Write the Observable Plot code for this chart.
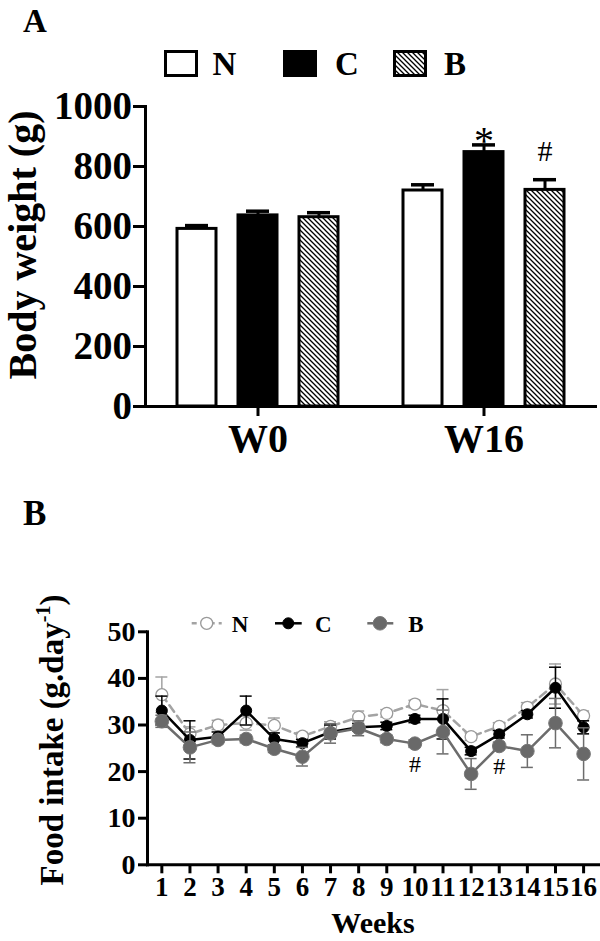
<!DOCTYPE html>
<html><head><meta charset="utf-8">
<script src="https://cdn.jsdelivr.net/npm/d3@7"></script>
<script src="https://cdn.jsdelivr.net/npm/@observablehq/plot@0.6"></script>
<style>
body{margin:0;background:#fff;}
#fig{position:relative;width:600px;height:941px;font-family:"Liberation Serif","Times New Roman",Times,serif;}
#fig > svg.plt{position:absolute;left:0;overflow:visible;}
</style></head><body>
<svg width="0" height="0" style="position:absolute"><defs>
<pattern id="hatchA" patternUnits="userSpaceOnUse" width="5" height="5">
<path d="M-1,-1 L6,6 M-1,4 L1,6 M4,-1 L6,1" stroke="black" stroke-width="1.3"/>
</pattern></defs></svg>
<div id="fig"></div>
<script>
// ---------- Panel A: body weight ----------
const weeksA = ["W0", "W16"];
const groups = ["N", "C", "B"];
const bwN = [592, 720];
const bwC = [637, 848];
const bwB = [631, 722];
const bwErrN = [11, 19];
const bwErrC = [14, 24];
const bwErrB = [15, 34];
const yTicksA = [0, 200, 400, 600, 800, 1000];
const sigA = [{week: "W16", group: "C", label: "*"}, {week: "W16", group: "B", label: "#"}];

// ---------- Panel B: food intake ----------
const weeks = [1, 2, 3, 4, 5, 6, 7, 8, 9, 10, 11, 12, 13, 14, 15, 16];
const fiN = [36.5, 28.1, 30.0, 30.4, 29.9, 27.6, 29.7, 31.7, 32.5, 34.5, 33.1, 27.5, 29.7, 33.8, 38.8, 32.0];
const fiC = [33.1, 26.8, 27.5, 33.1, 27.0, 26.1, 28.5, 29.5, 29.8, 31.3, 31.3, 24.4, 28.0, 32.3, 38.0, 29.5];
const fiB = [30.8, 25.2, 26.8, 27.0, 24.9, 23.2, 28.2, 29.3, 27.0, 26.0, 28.5, 19.5, 25.5, 24.4, 30.4, 23.8];
const errN = [3.8, 1.5, 1.0, 1.5, 1.6, 0.8, 1.0, 1.3, 0.8, 0.8, 4.5, 0.8, 0.8, 1.0, 4.3, 1.0];
const errC = [3.1, 4.1, 1.0, 3.1, 1.3, 0.8, 1.5, 0.8, 0.8, 0.8, 4.3, 0.8, 0.8, 0.8, 4.4, 1.4];
const errB = [1.3, 3.3, 0.8, 0.8, 0.8, 2.0, 2.1, 1.6, 0.8, 0.8, 4.7, 3.3, 0.8, 3.5, 5.3, 5.6];
const yTicksB = [0, 10, 20, 30, 40, 50];
const sigB = [{week: 10, label: "#"}, {week: 13, label: "#"}];

const FONT = '"Liberation Serif","Times New Roman",Times,serif';
const fig = document.getElementById("fig");

// ---- build panel A ----
const valsA = {N: bwN, C: bwC, B: bwB};
const errsA = {N: bwErrN, C: bwErrC, B: bwErrB};
const rowsA = weeksA.flatMap((w, i) => groups.map(g => ({week: w, group: g, value: valsA[g][i], err: errsA[g][i]})));
const fillsA = {N: "white", C: "black", B: "url(#hatchA)"};
const sigRowsA = sigA.map(s => {
  const r = rowsA.find(d => d.week === s.week && d.group === s.group);
  return {...s, top: r.value + r.err};
});

const plotA = Plot.plot({
  width: 600, height: 470,
  marginLeft: 145, marginRight: 3, marginTop: 106, marginBottom: 64,
  style: {fontFamily: FONT, fontWeight: "bold", color: "black", background: "transparent", overflow: "visible"},
  fx: {domain: weeksA, paddingInner: 0, paddingOuter: 0, axis: null, label: null},
  x: {domain: groups, paddingInner: 0.356, paddingOuter: 0.53, axis: null, label: null},
  y: {domain: [0, 1000], axis: null, label: null},
  marks: [
    ...groups.map(g => Plot.barY(rowsA.filter(d => d.group === g), {
      fx: "week", x: "group", y: "value", fill: fillsA[g], stroke: "black", strokeWidth: 3
    })),
    Plot.ruleX(rowsA, {fx: "week", x: "group", y1: "value", y2: d => d.value + d.err, stroke: "black", strokeWidth: 3}),
    Plot.tickY(rowsA, {fx: "week", x: "group", y: d => d.value + d.err, stroke: "black", strokeWidth: 3.5, insetLeft: 8, insetRight: 8}),
    Plot.ruleY([0], {strokeWidth: 3}),
    Plot.frame({anchor: "left", facetAnchor: "left", strokeWidth: 3}),
    Plot.axisY(yTicksA, {tickSize: 12, tickPadding: 1.5, fontSize: 39, fontWeight: "bold", strokeWidth: 3, tickFormat: d => String(d)}),
    Plot.ruleX(weeksA, {fx: d => d, x: () => groups[1], y1: () => 0, y2: () => 0, insetBottom: -10, strokeWidth: 3}),
    Plot.text(weeksA, {fx: d => d, x: () => groups[1], text: d => d, frameAnchor: "bottom", lineAnchor: "bottom", dy: 45, fontSize: 40, fontWeight: "bold"}),
    Plot.text(sigRowsA.filter(d => d.label === "*"), {fx: "week", x: "group", y: "top", text: "label", lineAnchor: "bottom", dy: 9, fontSize: 40, fontWeight: "normal"}),
    Plot.text(sigRowsA.filter(d => d.label === "#"), {fx: "week", x: "group", y: "top", text: "label", lineAnchor: "bottom", dy: -19, fontSize: 30, fontWeight: "normal"})
  ]
});
plotA.classList.add("plt");
plotA.style.top = "0px";
fig.appendChild(plotA);

// panel A decorations: panel letter, axis title, legend
{
  const s = d3.select(plotA);
  s.append("text").attr("x", 23).attr("y", 32).attr("text-anchor", "start").attr("font-size", 33)
    .attr("font-weight", "bold").attr("font-family", FONT).text("A");
  s.append("text").attr("transform", "translate(36,245) rotate(-90)").attr("text-anchor", "middle")
    .attr("font-size", 40).attr("font-weight", "bold").attr("font-family", FONT).text("Body weight (g)");
  const legX = {N: [165.5, 212.5], C: [284.5, 335], B: [394.5, 444]};
  groups.forEach(g => {
    s.append("rect").attr("x", legX[g][0]).attr("y", 51.5).attr("width", 31).attr("height", 24)
      .attr("fill", fillsA[g]).attr("stroke", "black").attr("stroke-width", 3);
    s.append("text").attr("x", legX[g][1]).attr("y", 75).attr("text-anchor", "start").attr("font-size", 33)
      .attr("font-weight", "bold").attr("font-family", FONT).text(g);
  });
}

// ---- build panel B ----
const rowsB = weeks.map((w, i) => ({week: w, N: fiN[i], C: fiC[i], B: fiB[i], eN: errN[i], eC: errC[i], eB: errB[i]}));
const series = [
  {key: "N", err: "eN", stroke: "#a3a3a3", dash: "8,5", fill: "white", r: 6, dotStroke: "#9a9a9a", sw: 1.3},
  {key: "C", err: "eC", stroke: "black", dash: null, fill: "black", r: 5.5, dotStroke: "black", sw: 1},
  {key: "B", err: "eB", stroke: "#6c6c6c", dash: null, fill: "#696969", r: 6.8, dotStroke: "#777777", sw: 1}
];
const sigRowsB = sigB.map(s => {
  const r = rowsB.find(d => d.week === s.week);
  return {...s, low: r.B - r.eB};
});

const marksB = [];
series.forEach(sr => {
  marksB.push(Plot.ruleX(rowsB, {x: "week", y1: d => d[sr.key] - d[sr.err], y2: d => d[sr.key] + d[sr.err], stroke: sr.stroke, strokeWidth: 1.5}));
  marksB.push(Plot.ruleY(rowsB, {y: d => d[sr.key] + d[sr.err], x1: "week", x2: "week", insetLeft: -6, insetRight: -6, stroke: sr.stroke, strokeWidth: 1.5}));
  marksB.push(Plot.ruleY(rowsB, {y: d => d[sr.key] - d[sr.err], x1: "week", x2: "week", insetLeft: -6, insetRight: -6, stroke: sr.stroke, strokeWidth: 1.5}));
  marksB.push(Plot.line(rowsB, {x: "week", y: sr.key, stroke: sr.stroke, strokeWidth: 2.5, strokeDasharray: sr.dash || undefined}));
  marksB.push(Plot.dot(rowsB, {x: "week", y: sr.key, r: sr.r, fill: sr.fill, stroke: sr.dotStroke, strokeWidth: sr.sw}));
});

const plotB = Plot.plot({
  width: 600, height: 471,
  marginLeft: 147, marginRight: 2, marginTop: 161.3, marginBottom: 76.7,
  style: {fontFamily: FONT, fontWeight: "bold", color: "black", background: "transparent", overflow: "visible"},
  x: {domain: [0.49, 16.53], axis: null, label: null},
  y: {domain: [0, 50], axis: null, label: null},
  marks: [
    Plot.frame({anchor: "left", strokeWidth: 3}),
    Plot.frame({anchor: "bottom", strokeWidth: 3}),
    Plot.axisY(yTicksB, {tickSize: 9, tickPadding: 3, fontSize: 28, fontWeight: "bold", strokeWidth: 3, tickFormat: d => String(d)}),
    Plot.axisX(weeks, {tickSize: 9, tickPadding: 3, fontSize: 27, fontWeight: "bold", strokeWidth: 3, tickFormat: d => String(d)}),
    ...marksB,
    Plot.text(sigRowsB, {x: "week", y: "low", text: "label", lineAnchor: "bottom", dy: 24.5, fontSize: 24, fontWeight: "normal"}),
    Plot.text(["Weeks"], {frameAnchor: "bottom", lineAnchor: "bottom", dy: 68, fontSize: 30, fontWeight: "bold"})
  ]
});
plotB.classList.add("plt");
plotB.style.top = "470px";
fig.appendChild(plotB);

{
  const s = d3.select(plotB);
  s.append("text").attr("x", 23).attr("y", 55).attr("text-anchor", "start").attr("font-size", 35)
    .attr("font-weight", "bold").attr("font-family", FONT).text("B");
  const t = s.append("text").attr("transform", "translate(63,270) rotate(-90)").attr("text-anchor", "middle")
    .attr("font-size", 33).attr("font-weight", "bold").attr("font-family", FONT);
  t.append("tspan").text("Food intake (g.day");
  t.append("tspan").attr("font-size", 20).attr("dy", -13).text("-1");
  t.append("tspan").attr("dy", 13).text(")");
  const ly = 153.3;
  const legPos = {N: [191.7, 221.7, 206.7, 231.7], C: [275, 301.7, 288.3, 315], B: [367.3, 393.3, 380, 408.3]};
  series.forEach(sr => {
    const p = legPos[sr.key];
    s.append("line").attr("x1", p[0]).attr("x2", p[1]).attr("y1", ly).attr("y2", ly)
      .attr("stroke", sr.stroke).attr("stroke-width", 2.5).attr("stroke-dasharray", sr.dash ? "5,4" : null);
    s.append("circle").attr("cx", p[2]).attr("cy", ly).attr("r", sr.r)
      .attr("fill", sr.fill).attr("stroke", sr.dotStroke).attr("stroke-width", sr.sw);
    s.append("text").attr("x", p[3]).attr("y", ly + 8.5).attr("text-anchor", "start").attr("font-size", 23)
      .attr("font-weight", "bold").attr("font-family", FONT).text(sr.key);
  });
}
</script></body></html>
